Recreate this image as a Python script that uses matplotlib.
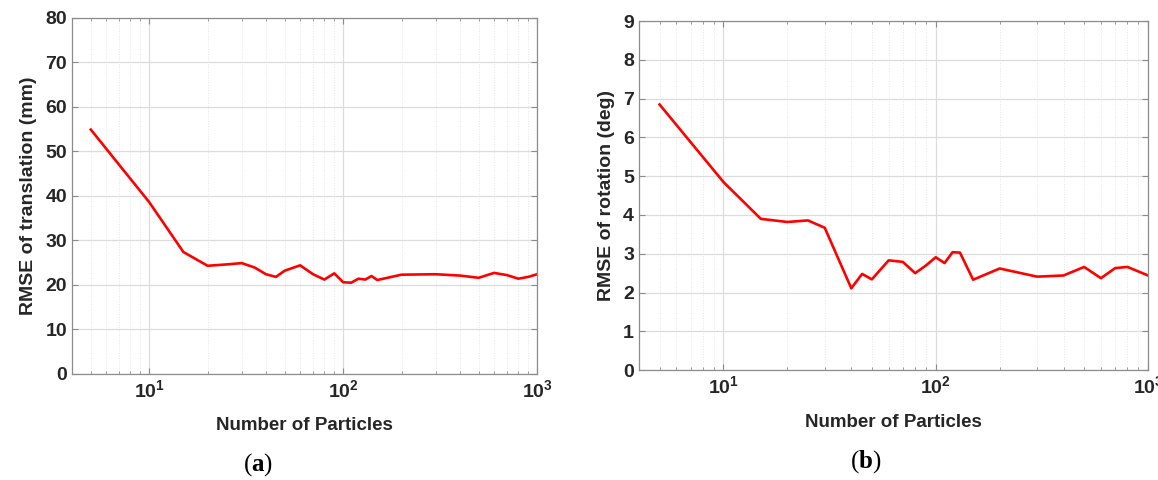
import numpy as np
import matplotlib
matplotlib.use("Agg")
import matplotlib.pyplot as plt
from matplotlib.ticker import LogLocator, NullFormatter

# particle counts and RMSE values
n_trans = [5, 10, 15, 20, 25, 30, 35, 40, 45, 50, 60, 70, 80, 90, 100, 110, 120,
           130, 140, 150, 200, 300, 400, 500, 600, 700, 800, 900, 1000]
rmse_trans = [54.9, 38.6, 27.4, 24.3, 24.6, 24.9, 23.9, 22.4, 21.8, 23.2, 24.4,
              22.4, 21.2, 22.6, 20.6, 20.5, 21.4, 21.2, 22.0, 21.1, 22.3, 22.4,
              22.1, 21.6, 22.7, 22.2, 21.4, 21.8, 22.4]

n_rot = [5, 10, 15, 20, 25, 30, 40, 45, 50, 60, 70, 80, 90, 100, 110, 120, 130,
         150, 200, 300, 400, 500, 600, 700, 800, 1000]
rmse_rot = [6.85, 4.85, 3.9, 3.82, 3.86, 3.67, 2.11, 2.48, 2.34, 2.83, 2.79, 2.5,
            2.7, 2.91, 2.76, 3.04, 3.03, 2.33, 2.62, 2.41, 2.44, 2.66, 2.37, 2.63,
            2.66, 2.44]

plt.rcParams['font.family'] = ['Liberation Sans', 'DejaVu Sans']
plt.rcParams['mathtext.fontset'] = 'custom'
plt.rcParams['mathtext.rm'] = 'Liberation Serif'
plt.rcParams['mathtext.bf'] = 'Liberation Serif:bold'

fig = plt.figure(figsize=(11.58, 4.8), dpi=100)
ax1 = fig.add_axes([0.0622, 0.221, 0.4016, 0.7417])
ax2 = fig.add_axes([0.5518, 0.229, 0.4396, 0.727])

def style(ax, ylab, ymax, ystep):
    ax.set_xscale('log')
    ax.set_xlim(4, 1000)
    ax.set_ylim(0, ymax)
    ax.set_yticks(np.arange(0, ymax + ystep / 2, ystep))
    ax.xaxis.set_minor_locator(LogLocator(base=10, subs=np.arange(2, 10)))
    ax.xaxis.set_minor_formatter(NullFormatter())
    ax.grid(True, which='major', color='#dcdcdc', lw=0.9)
    ax.grid(True, which='minor', axis='x', color='#e6e6e6', lw=0.7, ls=':')
    ax.set_axisbelow(True)
    for s in ax.spines.values():
        s.set_color('#8c8c8c')
        s.set_linewidth(0.9)
    ax.tick_params(which='both', direction='in', top=True, right=True,
                   colors='#8c8c8c', labelcolor='#262626', labelsize=14)
    ax.tick_params(which='major', length=4)
    ax.tick_params(which='minor', length=2.5)
    for lab in ax.get_xticklabels() + ax.get_yticklabels():
        lab.set_fontweight('bold')
    ax.set_ylabel(ylab, fontsize=14, fontweight='bold', color='#262626', labelpad=6)
    ax.set_xlabel('Number of Particles', fontsize=13.5, fontweight='bold',
                  color='#262626', labelpad=12)

ax1.plot(n_trans, rmse_trans, color='#ff0000', lw=1.9)
style(ax1, 'RMSE of translation (mm)', 80, 10)

ax2.plot(n_rot, rmse_rot, color='#ff0000', lw=1.9)
style(ax2, 'RMSE of rotation (deg)', 9, 1)

fig.text(258 / 1158, 1 - 465 / 480, r'$\mathrm{(}\mathbf{a}\mathrm{)}$',
         ha='center', va='center', fontsize=18)
fig.text(866 / 1158, 1 - 462 / 480, r'$\mathrm{(}\mathbf{b}\mathrm{)}$',
         ha='center', va='center', fontsize=18)

fig.savefig('out.png', dpi=100)
